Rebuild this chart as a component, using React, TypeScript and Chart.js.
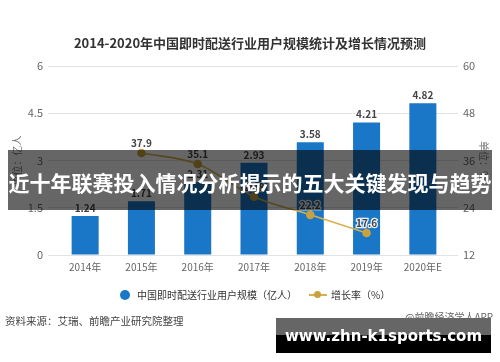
import React, { useEffect, useRef } from "react";
import { Chart, registerables } from "chart.js";

Chart.register(...registerables);

const categories = ["2014年", "2015年", "2016年", "2017年", "2018年", "2019年", "2020年E"];
const userScale = [1.24, 1.71, 2.31, 2.93, 3.58, 4.21, 4.82];
const growthRate: (number | null)[] = [null, 37.9, 35.1, 26.8, 22.2, 17.6, null];
const leftRange = { min: 0, max: 6, step: 1.5 };
const rightRange = { min: 12, max: 60, step: 12 };

const chartTitle = "2014-2020年中国即时配送行业用户规模统计及增长情况预测";
const leftAxisTitle = "单位：亿人";
const rightAxisTitle = "单位：%";
const barLegend = "中国即时配送行业用户规模（亿人）";
const lineLegend = "增长率（%）";
const sourceText = "资料来源：艾瑞、前瞻产业研究院整理";
const appText = "@前瞻经济学人APP";
const bannerText = "近十年联赛投入情况分析揭示的五大关键发现与趋势";
const siteText = "www.zhn-k1sports.com";

const BLUE = "#1a76c6";
const GOLD = "#d6b04a";
const GOLD_DOT = "#c9a23e";
const FONT = "'Noto Sans CJK SC', 'Noto Sans', sans-serif";

const labelPlugin = {
  id: "valueLabels",
  afterDatasetsDraw(chart: any) {
    const ctx = chart.ctx;
    ctx.save();
    ctx.textAlign = "center";
    ctx.textBaseline = "middle";
    ctx.font = `bold 10px ${FONT}`;
    chart.data.datasets.forEach((ds: any, di: number) => {
      const meta = chart.getDatasetMeta(di);
      meta.data.forEach((el: any, i: number) => {
        const v = ds.data[i];
        if (v === null || v === undefined) return;
        const txt = ds.type === "line" ? v.toFixed(1) : v.toFixed(2);
        const y = ds.type === "line" ? el.y - 10 : el.y - 8;
        ctx.lineWidth = 2.5;
        ctx.strokeStyle = "rgba(255,255,255,0.9)";
        ctx.strokeText(txt, el.x, y);
        ctx.fillStyle = "#444";
        ctx.fillText(txt, el.x, y);
      });
    });
    ctx.restore();
  },
};

export default function App() {
  const ref = useRef<HTMLCanvasElement | null>(null);

  useEffect(() => {
    if (!ref.current) return;
    const chart = new Chart(ref.current, {
      type: "bar",
      data: {
        labels: categories,
        datasets: [
          {
            type: "line",
            label: lineLegend,
            data: growthRate,
            yAxisID: "y1",
            borderColor: GOLD,
            borderWidth: 1.6,
            pointRadius: 3.5,
            pointBackgroundColor: GOLD_DOT,
            pointBorderColor: GOLD_DOT,
            cubicInterpolationMode: "monotone",
            order: 0,
          } as any,
          {
            type: "bar",
            label: barLegend,
            data: userScale,
            yAxisID: "y",
            backgroundColor: BLUE,
            barPercentage: 0.48,
            categoryPercentage: 1,
            order: 1,
          } as any,
        ],
      },
      options: {
        responsive: false,
        animation: false,
        devicePixelRatio: 1,
        layout: { padding: { top: 66, bottom: 77, left: 0, right: 0 } },
        plugins: {
          legend: { display: false },
          title: { display: false },
          tooltip: { enabled: false },
        },
        scales: {
          x: {
            grid: { display: false, drawTicks: false },
            border: { display: false },
            ticks: { color: "#666", font: { size: 10, family: FONT }, padding: 6 },
            afterFit: (s: any) => {
              s.height = 30;
            },
          },
          y: {
            position: "left",
            min: leftRange.min,
            max: leftRange.max,
            ticks: {
              stepSize: leftRange.step,
              color: "#666",
              font: { size: 11, family: FONT },
              padding: 5,
            },
            grid: { color: "#e2e2e2", tickColor: "#e2e2e2", tickLength: 9, drawTicks: true },
            border: { display: false },
            title: {
              display: true,
              text: leftAxisTitle,
              color: "#777",
              font: { size: 10, family: FONT },
              padding: { top: 11, bottom: 0 },
            },
            afterFit: (s: any) => {
              s.width = 57;
            },
          },
          y1: {
            position: "right",
            min: rightRange.min,
            max: rightRange.max,
            ticks: {
              stepSize: rightRange.step,
              color: "#666",
              font: { size: 11, family: FONT },
              padding: 5,
            },
            grid: {
              drawOnChartArea: false,
              color: "#e2e2e2",
              tickColor: "#e2e2e2",
              tickLength: 7,
              drawTicks: true,
            },
            border: { display: false },
            title: {
              display: true,
              text: rightAxisTitle,
              color: "#777",
              font: { size: 10, family: FONT },
              padding: { top: 10, bottom: 0 },
            },
            afterFit: (s: any) => {
              s.width = 49;
            },
          },
        },
      } as any,
      plugins: [labelPlugin],
    });
    return () => chart.destroy();
  }, []);

  const abs = (o: React.CSSProperties): React.CSSProperties => ({ position: "absolute", ...o });

  return (
    <div style={{ position: "absolute", left: 0, top: 0, width: 500, height: 362, background: "#fff", overflow: "hidden", fontFamily: FONT }}>
      <canvas ref={ref} width={500} height={362} style={{ position: "absolute", left: 0, top: 0, width: 500, height: 362 }} />
      <div style={abs({ left: 0, top: 33, width: 500, textAlign: "center", fontSize: 13, fontWeight: "bold", color: "#333", lineHeight: "20px" })}>
        {chartTitle}
      </div>
      {/* legend */}
      <div style={abs({ left: 120, top: 290, width: 10, height: 10, borderRadius: 5, background: BLUE })} />
      <div style={abs({ left: 137, top: 287, fontSize: 10, color: "#333", lineHeight: "16px", whiteSpace: "nowrap" })}>{barLegend}</div>
      <div style={abs({ left: 309, top: 294, width: 18, height: 2, background: GOLD })} />
      <div style={abs({ left: 314, top: 291, width: 7, height: 7, borderRadius: 4, background: GOLD_DOT })} />
      <div style={abs({ left: 331, top: 287, fontSize: 10, color: "#333", lineHeight: "16px", whiteSpace: "nowrap" })}>{lineLegend}</div>
      {/* footer */}
      <div style={abs({ left: 5, top: 313, fontSize: 10.5, color: "#444", lineHeight: "16px", whiteSpace: "nowrap" })}>{sourceText}</div>
      <div
        style={abs({
          left: 276,
          top: 318,
          width: 215,
          height: 35,
          background: "linear-gradient(to bottom, rgba(0,0,0,0.6) 0%, rgba(0,0,0,0.6) 50%, #000 50%, #000 100%)",
          color: "#fff",
          fontFamily: "'DejaVu Sans', sans-serif",
          fontWeight: "bold",
          fontSize: 15,
          lineHeight: "37px",
          textAlign: "center",
          whiteSpace: "nowrap",
        })}
      >
        {siteText}
      </div>
      <div style={abs({ left: 405, top: 310, fontSize: 10, color: "#666", lineHeight: "14px", whiteSpace: "nowrap" })}>{appText}</div>
      {/* banner */}
      <div
        style={abs({
          left: 8,
          top: 150,
          width: 484,
          height: 60,
          background: "rgba(0,0,0,0.6)",
          color: "#fff",
          fontWeight: "bold",
          fontSize: 21,
          lineHeight: "64px",
          textAlign: "center",
          whiteSpace: "nowrap",
          letterSpacing: 0,
        })}
      >
        {bannerText}
      </div>
    </div>
  );
}
